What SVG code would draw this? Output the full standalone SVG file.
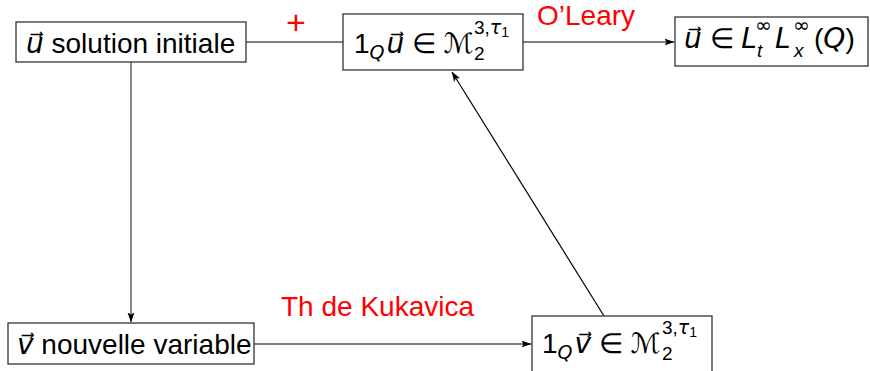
<svg xmlns="http://www.w3.org/2000/svg" width="870" height="371" viewBox="0 0 870 371">
<defs>
<marker id="ah" viewBox="0 0 10 10" refX="9.5" refY="5" markerWidth="10" markerHeight="10" markerUnits="userSpaceOnUse" orient="auto">
<path d="M0,1.5 L10,5 L0,8.5 L2,5 Z" fill="#000"/>
</marker>
<style>
.box{fill:#fff;stroke:#333;stroke-width:1.3}
.t{font-family:"Liberation Sans",Arial,sans-serif;font-size:28px;fill:#000}
.m{font-family:"DejaVu Sans","Liberation Sans",sans-serif;font-style:italic}
.s{font-family:"Liberation Sans",Arial,sans-serif;font-size:19px;fill:#000}
.inf{font-family:"DejaVu Sans",sans-serif;font-size:20px;fill:#000}
.r{font-family:"Liberation Sans",Arial,sans-serif;font-size:28px;fill:#ff0000}
.ln{fill:none;stroke:#555;stroke-width:1.4}
.lk{fill:none;stroke:#000;stroke-width:1.2}
</style>
</defs>
<g id="connectors">
<line class="ln" x1="246" y1="42" x2="343" y2="42"/>
<line class="ln" x1="523" y1="42" x2="674" y2="42" marker-end="url(#ah)"/>
<line class="ln" x1="131" y1="62" x2="131" y2="322" marker-end="url(#ah)"/>
<line class="lk" x1="254" y1="344" x2="531" y2="344" marker-end="url(#ah)"/>
<line class="lk" x1="604" y1="316" x2="452" y2="72" marker-end="url(#ah)"/>
<text class="r" x="286" y="34" style="font-size:34px">+</text>
<text class="r" x="537" y="25">O’Leary</text>
<text class="r" x="281" y="316">Th de Kukavica</text>
</g>
<g id="n1">
<rect class="box" x="16" y="22" width="230" height="40"/>
<text class="t" x="26" y="53"><tspan class="m">u⃗</tspan> solution initiale</text>
</g>
<g id="n2">
<rect class="box" x="343" y="14" width="180" height="56"/>
<text class="t" x="354" y="53">1<tspan class="m" font-size="19" dy="6">Q</tspan><tspan class="m" dy="-6" dx="2">u⃗</tspan> ∈ <tspan class="m">ℳ</tspan></text>
<text class="s" x="474" y="60">2</text>
<text class="s" x="474" y="34">3,<tspan class="m">τ</tspan><tspan font-size="14" dy="3">1</tspan></text>
</g>
<g id="n3">
<rect class="box" x="675" y="17" width="193" height="49"/>
<text class="t" x="684" y="48"><tspan class="m">u⃗</tspan> ∈ <tspan class="m">L</tspan></text>
<text class="s m" x="757" y="57">t</text>
<text class="inf" x="755" y="32">∞</text>
<text class="t m" x="775" y="48">L</text>
<text class="s m" x="794" y="57">x</text>
<text class="inf" x="793" y="32">∞</text>
<text class="t" x="814" y="48">(<tspan class="m">Q</tspan>)</text>
</g>
<g id="n4">
<rect class="box" x="8" y="323" width="246" height="41"/>
<text class="t" x="17" y="354"><tspan class="m">v⃗</tspan> nouvelle variable</text>
</g>
<g id="n5">
<rect class="box" x="532" y="316" width="180" height="60"/>
<text class="t" x="542" y="353">1<tspan class="m" font-size="19" dy="6">Q</tspan><tspan class="m" dy="-6" dx="2">v⃗</tspan> ∈ <tspan class="m">ℳ</tspan></text>
<text class="s" x="662" y="360">2</text>
<text class="s" x="662" y="334">3,<tspan class="m">τ</tspan><tspan font-size="14" dy="3">1</tspan></text>
</g>
</svg>
